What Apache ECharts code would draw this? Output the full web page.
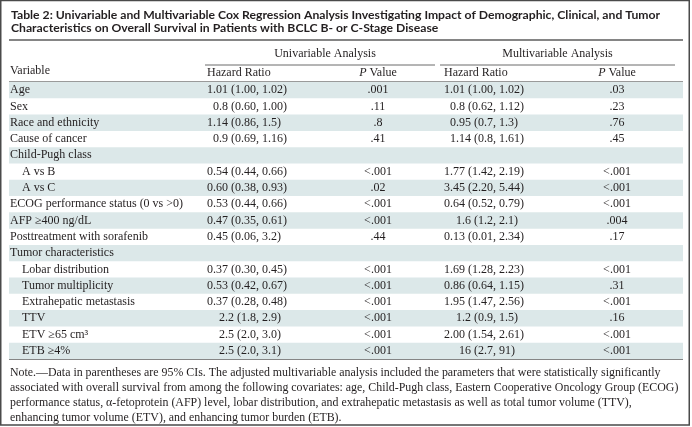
<!DOCTYPE html>
<html><head><meta charset="utf-8">
<script src="https://cdn.jsdelivr.net/npm/echarts@6/dist/echarts.min.js"></script>
<style>html,body{margin:0;padding:0;background:#fff}#c{width:692px;height:427px}</style>
</head><body><div id="c"></div>
<script>
// ---------- data ----------
const titleLines = [
  "Table 2: Univariable and Multivariable Cox Regression Analysis Investigating Impact of Demographic, Clinical, and Tumor",
  "Characteristics on Overall Survival in Patients with BCLC B- or C-Stage Disease"
];
const groupHeaders = ["Univariable Analysis", "Multivariable Analysis"];
const colHeaders = ["Variable", "Hazard Ratio", "P Value", "Hazard Ratio", "P Value"];
const variables = [
  "Age", "Sex", "Race and ethnicity", "Cause of cancer", "Child-Pugh class", "A vs B", "A vs C",
  "ECOG performance status (0 vs >0)", "AFP \u2265400 ng/dL", "Posttreatment with sorafenib",
  "Tumor characteristics", "Lobar distribution", "Tumor multiplicity", "Extrahepatic metastasis",
  "TTV", "ETV \u226565 cm\u00b3", "ETB \u22654%"
];
const subRow = [0,0,0,0,0,1,1,0,0,0,0,1,1,1,1,1,1];
const uniHR = [
  "1.01 (1.00, 1.02)", "0.8 (0.60, 1.00)", "1.14 (0.86, 1.5)", "0.9 (0.69, 1.16)", "",
  "0.54 (0.44, 0.66)", "0.60 (0.38, 0.93)", "0.53 (0.44, 0.66)", "0.47 (0.35, 0.61)", "0.45 (0.06, 3.2)", "",
  "0.37 (0.30, 0.45)", "0.53 (0.42, 0.67)", "0.37 (0.28, 0.48)", "2.2 (1.8, 2.9)", "2.5 (2.0, 3.0)", "2.5 (2.0, 3.1)"
];
const uniP = [".001", ".11", ".8", ".41", "", "<.001", ".02", "<.001", "<.001", ".44", "",
  "<.001", "<.001", "<.001", "<.001", "<.001", "<.001"];
const multiHR = [
  "1.01 (1.00, 1.02)", "0.8 (0.62, 1.12)", "0.95 (0.7, 1.3)", "1.14 (0.8, 1.61)", "",
  "1.77 (1.42, 2.19)", "3.45 (2.20, 5.44)", "0.64 (0.52, 0.79)", "1.6 (1.2, 2.1)", "0.13 (0.01, 2.34)", "",
  "1.69 (1.28, 2.23)", "0.86 (0.64, 1.15)", "1.95 (1.47, 2.56)", "1.2 (0.9, 1.5)", "2.00 (1.54, 2.61)", "16 (2.7, 91)"
];
const multiP = [".03", ".23", ".76", ".45", "", "<.001", "<.001", "<.001", ".004", ".17", "",
  "<.001", ".31", "<.001", ".16", "<.001", "<.001"];
const noteLines = [
  "Note.\u2014Data in parentheses are 95% CIs. The adjusted multivariable analysis included the parameters that were statistically significantly",
  "associated with overall survival from among the following covariates: age, Child-Pugh class, Eastern Cooperative Oncology Group (ECOG)",
  "performance status, \u03b1-fetoprotein (AFP) level, lobar distribution, and extrahepatic metastasis as well as total tumor volume (TTV),",
  "enhancing tumor volume (ETV), and enhancing tumor burden (ETB)."
];

// ---------- style / layout ----------
const SERIF = '"Liberation Serif", "DejaVu Serif", serif';
const SANS = 'Lato, "DejaVu Sans", sans-serif';
const INK = '#231f20';
const BAND = '#dce8e9';
const RULE = '#858585';
const FS = 12;
const X = {left: 9, right: 683, varX: 10, indent: 12, uniHR: 207, uniP: 378, multiHR: 444, multiP: 617,
  uniRule: [205, 435], multiRule: [440, 675]};

const ctx = document.createElement('canvas').getContext('2d');
function tw(s, size) { ctx.font = size + 'px ' + SERIF; return ctx.measureText(s).width; }
function splitHR(s) { const k = s.indexOf(', '); return k < 0 ? [s, ''] : [s.slice(0, k + 1), s.slice(k + 2)]; }
function commaX(col) { return Math.max.apply(null, col.filter(s => s).map(s => tw(splitHR(s)[0], FS))); }
const uniComma = commaX(uniHR), multiComma = commaX(multiHR);
const spaceW = tw(' ', FS);

function txt(s, x, y, opt) {
  return Object.assign({type: 'text', silent: true, style: Object.assign({
    text: s, x: x, y: y, fill: INK, font: FS + 'px ' + SERIF, textAlign: 'left', textVerticalAlign: 'middle'
  }, opt || {})});
}
function hrCell(s, colX, cw, y) {
  if (!s) return [];
  const p = splitHR(s);
  return [txt(p[0], colX + cw, y, {textAlign: 'right'}), txt(p[1], colX + cw + spaceW, y)];
}
function pHeader(cx, y) {
  return {type: 'text', silent: true, style: {
    text: '{i|P} Value', x: cx, y: y, fill: INK, font: FS + 'px ' + SERIF, textAlign: 'center', textVerticalAlign: 'middle',
    rich: {i: {fontStyle: 'italic', fontFamily: SERIF, fontSize: FS, fill: INK}}
  }};
}
function hline(x1, x2, y, w, c) {
  return {type: 'line', silent: true, shape: {x1: x1, y1: y, x2: x2, y2: y}, style: {stroke: c, lineWidth: w}};
}

const chart = echarts.init(document.getElementById('c'), null, {renderer: 'canvas'});
const graphics = [
  {type: 'rect', silent: true, shape: {x: 0.75, y: 0.5, width: 688.5, height: 424.5}, style: {fill: 'none', stroke: '#4a4a4a', lineWidth: 1.5}},
  txt(titleLines[0], 11, 15, {font: 'bold 12.2px ' + SANS}),
  txt(titleLines[1], 11, 28, {font: 'bold 12.2px ' + SANS}),
  hline(X.left, X.right, 40, 2, RULE),
  txt(groupHeaders[0], (X.uniRule[0] + X.uniRule[1]) / 2 + 5, 54, {textAlign: 'center'}),
  txt(groupHeaders[1], (X.multiRule[0] + X.multiRule[1]) / 2, 54, {textAlign: 'center'}),
  hline(X.uniRule[0], X.uniRule[1], 65, 1, '#6b6b6b'),
  hline(X.multiRule[0], X.multiRule[1], 65, 1, '#6b6b6b'),
  txt(colHeaders[0], X.varX, 71),
  txt(colHeaders[1], X.uniHR, 73),
  pHeader(X.uniP, 73),
  txt(colHeaders[3], X.multiHR, 73),
  pHeader(X.multiP, 73),
  hline(X.left, X.right, 81.5, 1, '#9a9a9a'),
  hline(X.left, X.right, 359, 2, RULE)
];
noteLines.forEach((s, i) => graphics.push(txt(s, 10, 373 + i * 15, {font: '11.9px ' + SERIF})));

chart.setOption({
  animation: false,
  grid: {left: 0, right: 0, top: 82, bottom: 68},
  xAxis: {type: 'value', min: 0, max: 692, show: false},
  yAxis: {type: 'category', data: variables, inverse: true, show: false},
  graphic: graphics,
  series: [{
    type: 'custom',
    coordinateSystem: 'cartesian2d',
    encode: {x: 0, y: 1},
    data: variables.map((v, i) => [0, i]),
    renderItem: function (params, api) {
      const i = api.value(1);
      const y = api.coord([0, i])[1];
      const h = api.size([0, 1])[1];
      const xl = api.coord([X.left, i])[0], xr = api.coord([X.right, i])[0];
      const ch = [];
      if (i % 2 === 0) ch.push({type: 'rect', silent: true, shape: {x: xl, y: y - h / 2, width: xr - xl, height: h}, style: {fill: BAND}});
      ch.push(txt(variables[i], X.varX + (subRow[i] ? X.indent : 0), y));
      hrCell(uniHR[i], X.uniHR, uniComma, y).forEach(e => ch.push(e));
      if (uniP[i]) ch.push(txt(uniP[i], X.uniP, y, {textAlign: 'center'}));
      hrCell(multiHR[i], X.multiHR, multiComma, y).forEach(e => ch.push(e));
      if (multiP[i]) ch.push(txt(multiP[i], X.multiP, y, {textAlign: 'center'}));
      return {type: 'group', children: ch};
    }
  }]
});
</script></body></html>
